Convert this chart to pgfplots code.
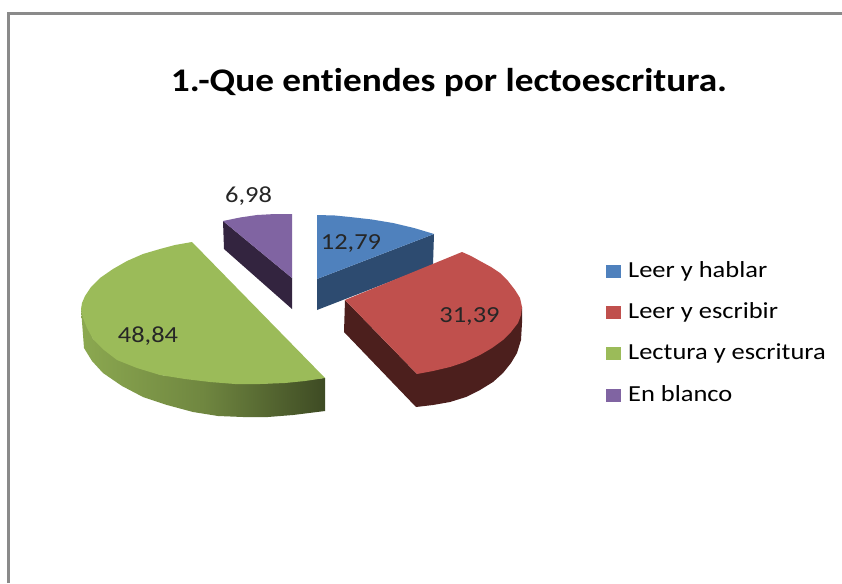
\documentclass[border=0pt]{standalone}
\usepackage{fontspec}
\setmainfont{Carlito}
\newfontfamily\wide[FakeStretch=1.15,Ligatures=NoCommon]{Carlito}
\newfontfamily\wideb[FakeStretch=1.13,Ligatures=NoCommon]{Carlito}
\usepackage{pgfplots}
\pgfplotsset{compat=1.18}
\definecolor{cblue}{HTML}{4F81BD}
\definecolor{cred}{HTML}{C0504D}
\definecolor{cgreen}{HTML}{9BBB59}
\definecolor{cpurple}{HTML}{8064A2}
\definecolor{sblue}{HTML}{2D4B70}
\definecolor{sred}{HTML}{4C1F1D}
\definecolor{spurple}{HTML}{33243F}
\definecolor{frame}{HTML}{8A8A8A}
\begin{document}
\begin{tikzpicture}
\begin{axis}[
  scale only axis, width=842pt, height=583pt,
  xmin=0, xmax=842, ymin=0, ymax=583, y dir=reverse,
  hide axis,
  legend style={at={(axis cs:606,263)}, anchor=north west, draw=none, fill=none,
    row sep=22.3pt, font=\wide\fontsize{23}{23}\selectfont, inner sep=0pt,
    column sep=7pt, nodes={inner sep=0pt, text height=14pt, text depth=5pt}},
  legend cell align=left,
  legend image code/.code={\path[#1] (-2pt,-5pt) rectangle (13pt,8pt);},
]
\addplot[draw=none, fill=white, forget plot] coordinates {(0,0) (842,0) (842,583) (0,583)} -- cycle;
\addplot[draw=frame, line width=2.6pt, forget plot] coordinates {(8.5,583) (8.5,13.5) (842,13.5)};

% Leer y hablar
\addplot[draw=none, fill=sblue, forget plot] coordinates {(434,234) (433,265) (317,310) (317,279)} -- cycle;
\addplot[draw=none, fill=cblue] coordinates {(317,215) (335,215.5) (350,217) (372,219.5) (393,223) (414,228) (434,234) (317,279)} -- cycle;
\addlegendentry{Leer y hablar}

% Leer y escribir
\addplot[draw=none, fill=sred, forget plot] coordinates {(345,300) (344,332) (416,407) (433,405) (450,402) (466,397) (480,390) (493,382) (503,373) (511,363) (517,353) (521,340) (522,323) (522,307) (417,374)} -- cycle;
\addplot[draw=none, fill=cred] coordinates {(345,300) (462,252) (471,256) (480,261) (491,267) (500,273) (508,281) (515,290) (520,298) (522,307) (521,315) (518,323) (511,332) (503,340) (492,348) (480,355) (465,362) (450,367) (433,371) (417,374)} -- cycle;
\addlegendentry{Leer y escribir}

% Lectura y escritura
\addplot[draw=none, left color=cgreen!90!black, right color=cgreen!40!black, middle color=cgreen!72!black, forget plot] coordinates {(81,309) (84,348) (92,361) (103,373) (122,386) (143,397) (167,405) (193,412) (218,416) (243,417) (268,417) (293,415) (325,411) (325,378) (260,384) (160,375) (93,339)} -- cycle;
\addplot[draw=none, fill=cgreen] coordinates {(192,242) (175,245) (160,249) (143,254) (127,261) (113,269) (100,278) (91,287) (85,296) (82,303) (81,309) (83,318) (87,328) (93,339) (104,350) (117,360) (137,368) (160,375) (185,379) (210,382) (235,384) (260,384) (285,383) (305,381) (325,378)} -- cycle;
\addlegendentry{Lectura y escritura}

% En blanco
\addplot[draw=none, fill=spurple, forget plot] coordinates {(223,221) (224,249) (292,309) (292,278)} -- cycle;
\addplot[draw=none, fill=cpurple] coordinates {(223,221) (240,217.5) (257,215) (275,214) (292,214) (292,278)} -- cycle;
\addlegendentry{En blanco}

\node[font=\wide\fontsize{23}{23}\selectfont, text=black!85] at (axis cs:248.5,196.5) {6,98};
\node[font=\wide\fontsize{23}{23}\selectfont, text=black!85] at (axis cs:351,243.5) {12,79};
\node[font=\wide\fontsize{23}{23}\selectfont, text=black!85] at (axis cs:469.5,317) {31,39};
\node[font=\wide\fontsize{23}{23}\selectfont, text=black!85] at (axis cs:148,336) {48,84};
\node[font=\wideb\bfseries\fontsize{33}{33}\selectfont] at (axis cs:449,83) {1.-Que entiendes por lectoescritura.};
\end{axis}
\end{tikzpicture}
\end{document}
